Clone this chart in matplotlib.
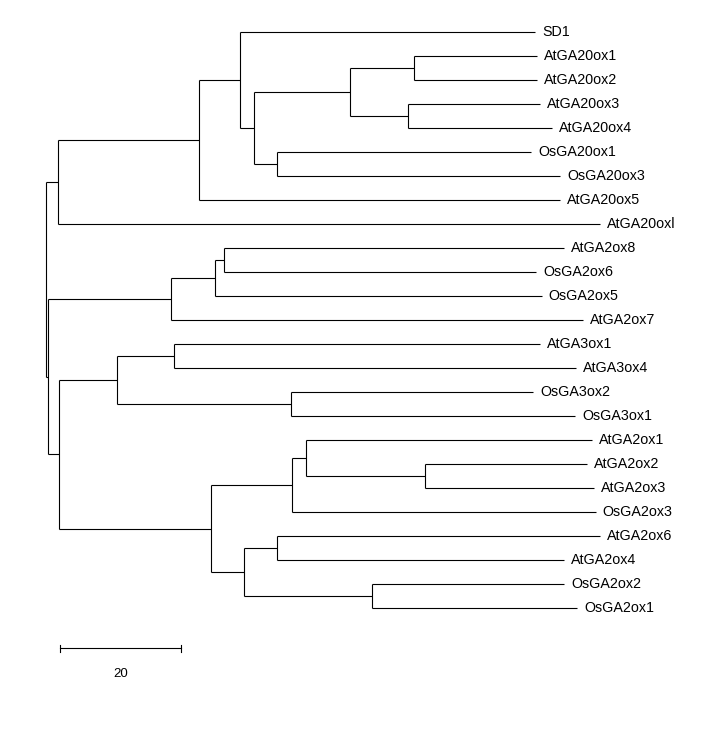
import matplotlib
matplotlib.use("Agg")
import matplotlib.pyplot as plt

# hojas del árbol (orden de arriba a abajo) y su distancia a la raíz
hojas = ["SD1", "AtGA20ox1", "AtGA20ox2", "AtGA20ox3", "AtGA20ox4", "OsGA20ox1",
         "OsGA20ox3", "AtGA20ox5", "AtGA20oxl", "AtGA2ox8", "OsGA2ox6", "OsGA2ox5",
         "AtGA2ox7", "AtGA3ox1", "AtGA3ox4", "OsGA3ox2", "OsGA3ox1", "AtGA2ox1",
         "AtGA2ox2", "AtGA2ox3", "OsGA2ox3", "AtGA2ox6", "AtGA2ox4", "OsGA2ox2",
         "OsGA2ox1"]
prof_hojas = [80.78, 81.16, 81.16, 81.60, 83.54, 80.12,
              84.96, 84.96, 91.52, 85.57, 80.94, 81.88,
              88.76, 81.60, 87.50, 80.50, 87.39, 90.25,
              89.32, 90.58, 90.81, 91.52, 85.57, 85.57,
              87.77]

# nodos internos: nombre, hijos y distancia a la raíz
nodos = ["raiz", "n20", "nA", "nB", "nC", "nD", "nD1", "nD2", "nE", "nresto", "nF",
         "nG", "nH", "nI", "nJ", "nK", "nL", "nM", "nN", "nO", "nP", "nQ", "nR", "nS"]
hijos = [("n20", "nresto"), ("nA", "AtGA20oxl"), ("nB", "AtGA20ox5"), ("SD1", "nC"),
         ("nD", "nE"), ("nD1", "nD2"), ("AtGA20ox1", "AtGA20ox2"),
         ("AtGA20ox3", "AtGA20ox4"), ("OsGA20ox1", "OsGA20ox3"),
         ("nF", "nI"), ("nG", "AtGA2ox7"), ("nH", "OsGA2ox5"), ("AtGA2ox8", "OsGA2ox6"),
         ("nJ", "nM"), ("nK", "nL"), ("AtGA3ox1", "AtGA3ox4"), ("OsGA3ox2", "OsGA3ox1"),
         ("nN", "nQ"), ("nO", "OsGA2ox3"), ("AtGA2ox1", "nP"), ("AtGA2ox2", "AtGA2ox3"),
         ("nR", "nS"), ("AtGA2ox6", "AtGA2ox4"), ("OsGA2ox2", "OsGA2ox1")]
prof_nodos = [0.0, 1.98, 25.29, 32.07, 34.38, 50.25, 60.83, 59.74, 38.18, 0.23, 20.66,
              27.93, 29.42, 2.15, 11.74, 21.16, 40.50, 27.27, 40.66, 42.98, 62.64,
              32.73, 38.18, 53.88]

escala = 20

x = dict(zip(hojas, prof_hojas))
x.update(zip(nodos, prof_nodos))
y = {h: i for i, h in enumerate(hojas)}
hijos_de = dict(zip(nodos, hijos))


def pos_y(n):
    if n not in y:
        y[n] = (pos_y(hijos_de[n][0]) + pos_y(hijos_de[n][1])) / 2
    return y[n]


pos_y("raiz")

fig = plt.figure(figsize=(7.12, 7.32), dpi=100)
ax = fig.add_axes([0, 0, 1, 1])
ax.set_xlim(-46.3 / 6.05, (712 - 46.3) / 6.05)
ax.set_ylim((732 - 32) / 24, -32 / 24)
ax.axis("off")

lw = 0.8
for n in nodos:
    a, b = hijos_de[n]
    ax.plot([x[n], x[n]], [y[a], y[b]], color="black", lw=lw, solid_capstyle="butt")
    for h in (a, b):
        ax.plot([x[n], x[h]], [y[h], y[h]], color="black", lw=lw, solid_capstyle="butt")

for h in hojas:
    ax.annotate(h, (x[h], y[h]), xytext=(5, 0), textcoords="offset points",
                va="center", ha="left", fontsize=10.3, family="Liberation Sans")

# barra de escala
xb, yb = 2.31, 25.68
ax.plot([xb, xb + escala], [yb, yb], color="black", lw=lw)
for xt in (xb, xb + escala):
    ax.plot([xt, xt], [yb - 0.14, yb + 0.14], color="black", lw=lw)
ax.text(xb + escala / 2, 26.75, str(escala), ha="center", va="center",
        fontsize=9.5, family="Liberation Sans")

fig.savefig("out.png", dpi=100)
